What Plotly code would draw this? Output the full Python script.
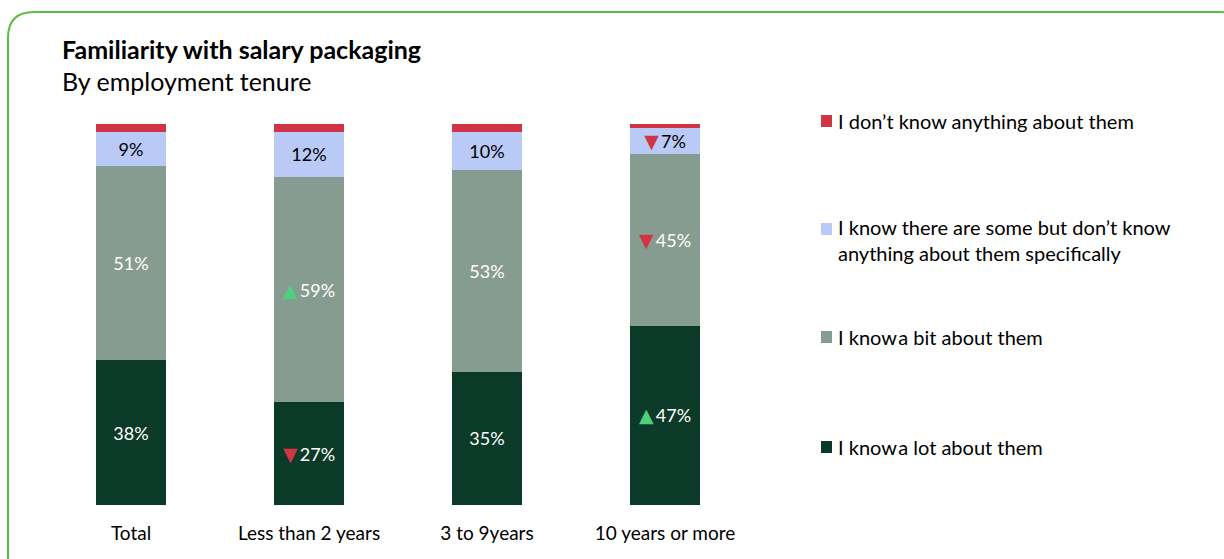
import plotly.graph_objects as go

# Categories and shares (%), bottom segment first
categories = ["Total", "Less than 2 years", "3 to 9years", "10 years or more"]
know_lot = [38, 27, 35, 47]
know_bit = [51, 59, 53, 45]
know_some = [9, 12, 10, 7]
know_nothing = [2, 2, 2, 1]

# Significance flags per segment ("up", "down" or "")
sig_lot = ["", "down", "", "up"]
sig_bit = ["", "up", "", "down"]
sig_some = ["", "", "", "down"]

series_names = [
    "I know\u200aa lot about them",
    "I know\u200aa bit about them",
    "I know there are some but don\u2019t know<br>anything about them specifically",
    "I don\u2019t know anything about them",
]

C_LOT = "#0C3A28"
C_BIT = "#879C90"
C_SOME = "#B9CAF7"
C_NONE = "#D13545"
UP = "#4CD07D"
DOWN = "#D13545"
FONT = "Lato"

W, H = 1224, 559
L, R, T, B = 42, 470, 124, 54


def label(v, s):
    tri_style = "font-family:DejaVu Sans;font-size:19px;color:{}"
    mark = ""
    if s == "up":
        mark = f"<span style='{tri_style.format(UP)}'>\u25B2</span>\u2009"
    elif s == "down":
        mark = f"<span style='{tri_style.format(DOWN)}'>\u25BC</span>\u2009"
    return f"{mark}{v}%"


fig = go.Figure()
segments = [
    (know_lot, sig_lot, C_LOT, "white"),
    (know_bit, sig_bit, C_BIT, "white"),
    (know_some, sig_some, C_SOME, "black"),
    (know_nothing, None, C_NONE, "black"),
]
for vals, sig, color, tcolor in segments:
    text = [label(v, s) for v, s in zip(vals, sig)] if sig else None
    fig.add_trace(go.Bar(
        x=categories, y=vals, marker=dict(color=color, line=dict(width=0)),
        text=text, textposition="inside" if sig else "none",
        insidetextanchor="middle", constraintext="none",
        textfont=dict(family=FONT, size=18, color=tcolor),
        hoverinfo="skip", showlegend=False, width=0.395,
    ))

fig.update_layout(
    barmode="stack",
    width=W, height=H,
    margin=dict(l=L, r=R, t=T, b=B),
    paper_bgcolor="white", plot_bgcolor="white",
    font=dict(family=FONT, color="black"),
    xaxis=dict(range=[-0.5, 3.5], showgrid=False, showline=False, zeroline=False,
               ticks="", tickfont=dict(family=FONT, size=19, color="black"),
               ticklabelstandoff=15),
    yaxis=dict(range=[0, 100], visible=False),
)

# Pixel helpers for paper-referenced decorations
pw, ph = W - L - R, H - T - B


def px(x):
    return (x - L) / pw


def py(y):
    return (H - B - y) / ph


# Rounded green frame
x0, y0, x1, y1, r = 8, 12, 1246, 575, 26
path = (f"M {px(x0)},{py(y1)} L {px(x0)},{py(y0 + r)} "
        f"Q {px(x0)},{py(y0)} {px(x0 + r)},{py(y0)} "
        f"L {px(x1 - r)},{py(y0)} Q {px(x1)},{py(y0)} {px(x1)},{py(y0 + r)} "
        f"L {px(x1)},{py(y1)}")
fig.add_shape(type="path", path=path, xref="paper", yref="paper",
              line=dict(color="#5DBB46", width=2))

# Title and subtitle
fig.add_annotation(x=px(60), y=py(49), xref="paper", yref="paper", xanchor="left",
                   yanchor="middle", showarrow=False,
                   text="<b>Familiarity with salary packaging</b>",
                   font=dict(family=FONT, size=25, color="black"))
fig.add_annotation(x=px(60), y=py(81), xref="paper", yref="paper", xanchor="left",
                   yanchor="middle", showarrow=False, text="By employment tenure",
                   font=dict(family=FONT, size=25, color="black"))

# Legend (top to bottom)
legend_rows = [
    (series_names[3], C_NONE, 121, 121),
    (series_names[2], C_SOME, 229, 240),
    (series_names[1], C_BIT, 337, 337),
    (series_names[0], C_LOT, 447, 447),
]
for name, color, sq_y, txt_y in legend_rows:
    fig.add_shape(type="rect", xref="paper", yref="paper",
                  x0=px(821), x1=px(832), y0=py(sq_y + 6), y1=py(sq_y - 6),
                  fillcolor=color, line=dict(width=0))
    fig.add_annotation(x=px(836), y=py(txt_y), xref="paper", yref="paper",
                       xanchor="left", yanchor="middle", align="left",
                       showarrow=False, text=name,
                       font=dict(family=FONT, size=20, color="black"))

fig.write_html("out.html")
